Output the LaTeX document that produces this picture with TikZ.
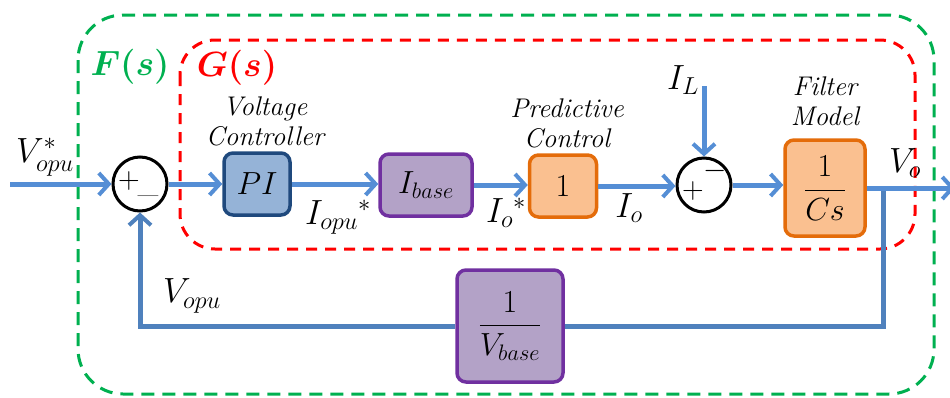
\RequirePackage{fix-cm}
\documentclass[tikz,border=0pt]{standalone}
\usepackage{amsmath}
\usepackage{fontspec}
\usetikzlibrary{arrows.meta}
\definecolor{sigc}{HTML}{558ED5}
\definecolor{fbc}{HTML}{4F81BD}
\definecolor{gdash}{HTML}{00B050}
\definecolor{rdash}{HTML}{FF0000}
\definecolor{pifill}{HTML}{95B3D7}
\definecolor{pidraw}{HTML}{1F497D}
\definecolor{pufill}{HTML}{B3A2C7}
\definecolor{pudraw}{HTML}{7030A0}
\definecolor{orfill}{HTML}{FAC090}
\definecolor{ordraw}{HTML}{E46C0A}
\tikzset{
  blk/.style={draw, rounded corners=9pt, line width=3.5pt, inner sep=0pt, font=\fontsize{32}{36}\selectfont},
  bluebox/.style={blk, fill=pifill, draw=pidraw},
  purplebox/.style={blk, fill=pufill, draw=pudraw},
  orangebox/.style={blk, fill=orfill, draw=ordraw},
  sumnode/.style={circle, draw=black, line width=3pt, minimum size=54pt, inner sep=0pt},
  sigline/.style={draw=sigc, line width=5pt, -{Straight Barb[length=10pt,width=22pt,line width=4pt]}},
  fbline/.style={draw=fbc, line width=5pt},
  lbl/.style={inner sep=0pt, font=\fontsize{35}{38}\selectfont},
  captxt/.style={inner sep=0pt, align=center, font=\fontsize{27}{30}\selectfont\itshape\addfontfeatures{LetterSpace=9}},
  sgn/.style={inner sep=0pt, font=\fontsize{30}{32}\selectfont},
}
\begin{document}
\begin{tikzpicture}[x=1pt,y=-1pt]
\useasboundingbox (0,0) rectangle (950,397);
\draw[draw=gdash, line width=3pt, dash pattern=on 13pt off 8pt, rounded corners=45pt] (78,15) rectangle (934,394);
\draw[draw=rdash, line width=3pt, dash pattern=on 11pt off 8pt, rounded corners=35pt] (180,40) rectangle (915,249);
\node[lbl, text=gdash] (Fs) at (130,67) {$\boldsymbol{F(s)}$};
\node[lbl, text=rdash] (Gs) at (237,68) {$\boldsymbol{G(s)}$};
\node[sumnode] (s1) at (140,184) {};
\node[bluebox, minimum width=66pt, minimum height=62pt] (pi) at (257,184) {$PI$};
\node[purplebox, minimum width=92pt, minimum height=62pt] (ib) at (426,185) {$I_{base}$};
\node[orangebox, minimum width=67pt, minimum height=62pt] (one) at (563,186) {$1$};
\node[sumnode] (s2) at (704,185) {};
\node[orangebox, minimum width=80pt, minimum height=96pt] (cs) at (825,188) {$\dfrac{1}{Cs}$};
\node[purplebox, minimum width=106pt, minimum height=112pt] (vb) at (510,326) {$\dfrac{1}{V_{base}}$};
\node[sgn] (p1) at (129,181) {$+$};
\node[sgn] (m1) at (148,195) {$\_$};
\node[sgn] (p2) at (693,191) {$+$};
\node[sgn] (m2) at (715,171) {$-$};
\node[captxt] (c1) at (265,121) {Voltage\\Controller};
\node[captxt] (c2) at (567,123) {Predictive\\Control};
\node[captxt] (c3) at (825,101) {Filter\\Model};
\node[lbl] (lvin) at (45,157) {$V_{opu}^{*}$};
\node[lbl] (liopu) at (338,217) {$I_{opu}{}^{*}$};
\node[lbl] (lio1) at (506,213) {$I_{o}{}^{*}$};
\node[lbl] (lio) at (629,208) {$I_{o}$};
\node[lbl] (lil) at (683,80) {$I_{L}$};
\node[lbl] (lvo) at (905,163) {$V_{o}$};
\node[lbl] (lvopu) at (192,296) {$V_{opu}$};
\coordinate (inp) at (10,184);
\coordinate (ilt) at (704,86);
\coordinate (outp) at (955,188);
\coordinate (br) at (883,188);
\draw[fbline] (br) |- (vb.east);
\draw[fbline, -{Straight Barb[length=10pt,width=22pt,line width=4pt]}] (vb.west) -| (s1.south);
\draw[sigline] (inp) -- (s1.west);
\draw[sigline] (s1.east) -- (pi.west |- s1.east);
\draw[sigline] (pi.east) -- (ib.west |- pi.east);
\draw[sigline] (ib.east) -- (one.west |- ib.east);
\draw[sigline] (one.east) -- (s2.west |- one.east);
\draw[sigline] (s2.east) -- (cs.west |- s2.east);
\draw[sigline] (ilt) -- (s2.north);
\draw[sigline] (cs.east) -- (outp);
\end{tikzpicture}
\end{document}
